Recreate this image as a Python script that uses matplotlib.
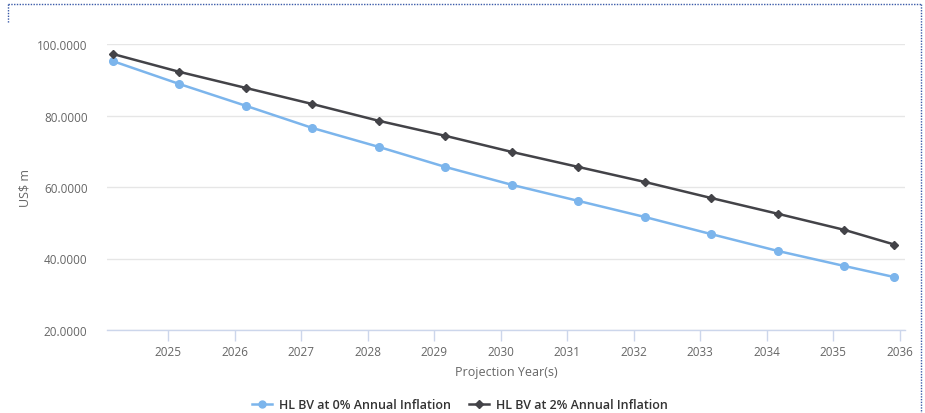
import matplotlib
matplotlib.use("Agg")
import matplotlib.pyplot as plt
from matplotlib.lines import Line2D

plt.rcParams['font.family'] = ['Open Sans', 'DejaVu Sans']

# Data (decimal year positions of each projection point)
years = [2024.17, 2025.17, 2026.17, 2027.17, 2028.17, 2029.17, 2030.17,
         2031.17, 2032.17, 2033.17, 2034.17, 2035.17, 2035.92]
bv_0 = [95.2, 88.8, 82.7, 76.5, 71.2, 65.6, 60.6, 56.1, 51.6, 46.8, 42.1, 37.9, 34.8]
bv_2 = [97.2, 92.2, 87.7, 83.2, 78.5, 74.3, 69.8, 65.6, 61.4, 56.9, 52.5, 48.0, 43.9]
xticks = list(range(2025, 2037))
yticks = [20, 40, 60, 80, 100]
series_names = ["HL BV at 0% Annual Inflation", "HL BV at 2% Annual Inflation"]

W, H = 925, 414
fig = plt.figure(figsize=(W / 100, H / 100), dpi=100)

# Outer dotted border (figure coords)
def fx(px): return px / W
def fy(py): return 1 - py / H
border_col = '#3b5ba9'
fig.add_artist(Line2D([fx(8), fx(921)], [fy(5), fy(5)], color=border_col, lw=1, ls=(0, (1, 1))))
fig.add_artist(Line2D([fx(8), fx(8)], [fy(5), fy(24)], color=border_col, lw=1, ls=(0, (1, 1))))
fig.add_artist(Line2D([fx(921), fx(921)], [fy(5), fy(414)], color=border_col, lw=1, ls=(0, (1, 1))))

left, right, top, bottom = 107, 905, 45, 331
ax = fig.add_axes([fx(left), fy(bottom), (right - left) / W, (bottom - top) / H])

c0 = '#7cb5ec'
c2 = '#434348'
ax.plot(years, bv_0, color=c0, lw=1.8, marker='o', ms=5.5, mec=c0, zorder=3)
ax.plot(years, bv_2, color=c2, lw=1.8, marker='D', ms=4.2, mec=c2, zorder=4)

ax.set_xlim(2024.08, 2036.08)
ax.set_ylim(20, 100)
ax.set_yticks(yticks)
ax.set_yticklabels([f"{v:.4f}" for v in yticks])
ax.set_xticks(xticks)
ax.set_xticklabels([str(y) for y in xticks])

ax.grid(axis='y', color='#e6e6e6', lw=1)
ax.set_axisbelow(True)
for s in ['top', 'right', 'left']:
    ax.spines[s].set_visible(False)
ax.spines['bottom'].set_color('#ccd6eb')
ax.spines['bottom'].set_linewidth(1)

ax.tick_params(axis='y', length=0, pad=14, labelsize=8.5, labelcolor='#666666')
ax.tick_params(axis='x', length=8, width=1, color='#ccd6eb', pad=3, labelsize=8.5, labelcolor='#666666')

ax.set_xlabel("Projection Year(s)", fontsize=9, color='#666666', labelpad=5)
ax.set_ylabel("US$ m", fontsize=9, color='#666666', labelpad=4)

handles = [Line2D([0], [0], color=c0, lw=1.8, marker='o', ms=5),
           Line2D([0], [0], color=c2, lw=1.8, marker='D', ms=4)]
fig.legend(handles, series_names, loc='center', bbox_to_anchor=(fx(460), fy(406)),
           ncol=2, frameon=False, fontsize=9, handlelength=1.6, handletextpad=0.5,
           columnspacing=1.5, labelcolor='#333333', prop={'weight': 'semibold', 'size': 9})

fig.savefig("out.png", dpi=100, facecolor='white')
